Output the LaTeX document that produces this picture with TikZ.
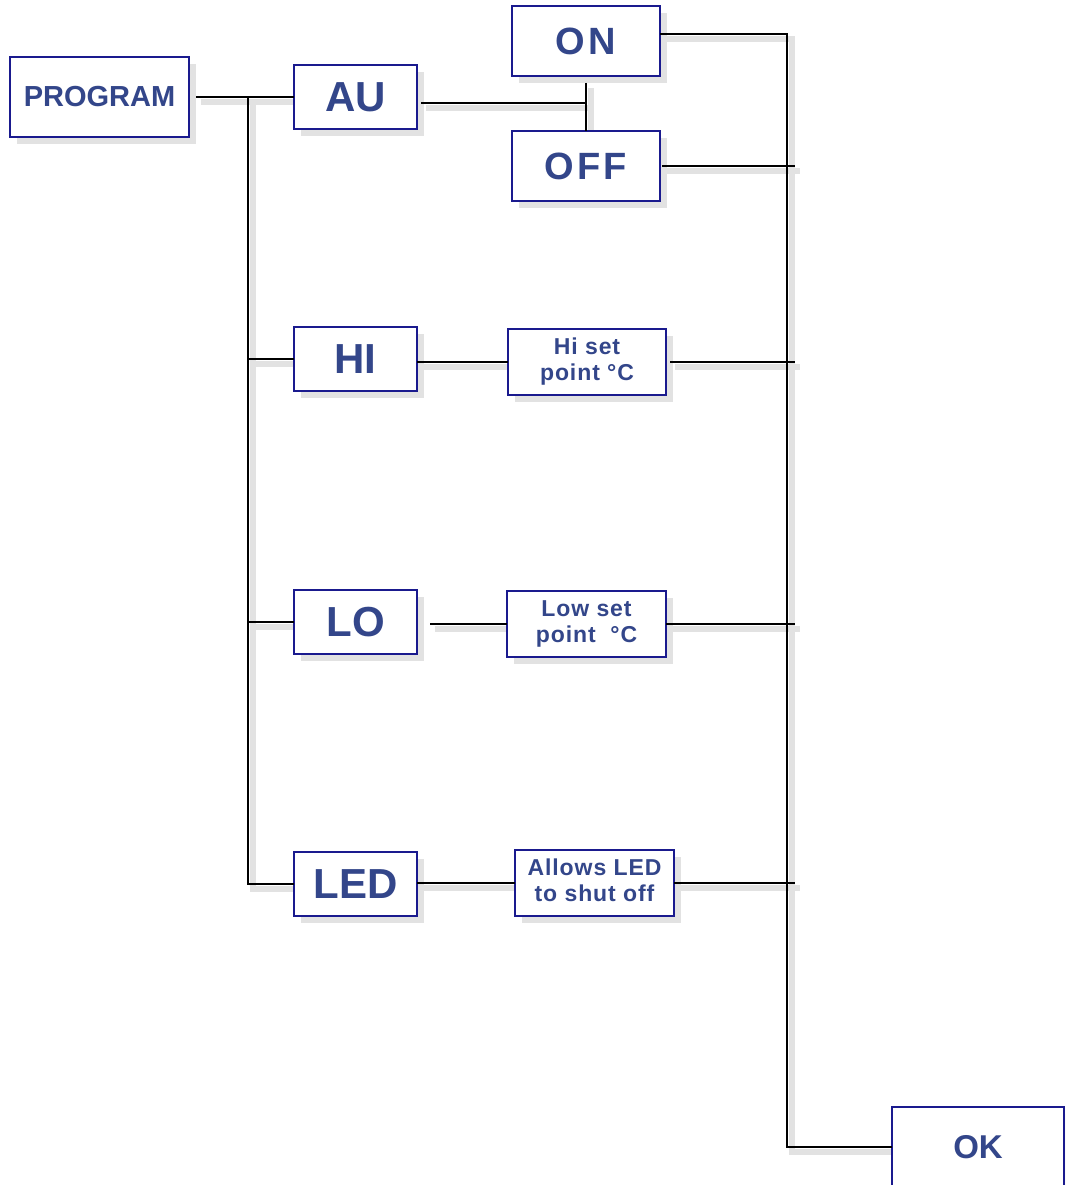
\documentclass[tikz,border=0pt]{standalone}
\usepackage{fontspec}
\setmainfont{Liberation Sans}
\usetikzlibrary{shadows,backgrounds}
\definecolor{boxblue}{HTML}{1A1A8E}
\definecolor{txtblue}{HTML}{33468A}
\definecolor{shgray}{HTML}{E2E2E2}
\tikzset{
  box/.style={draw=boxblue, line width=2pt, fill=white, inner sep=0pt, outer sep=0pt,
    text=txtblue, align=center,
    drop shadow={shadow xshift=7pt, shadow yshift=-7pt, fill=shgray, opacity=1}},
  bigtxt/.style={font=\fontsize{42}{44}\selectfont\bfseries},
  ontxt/.style={font=\fontsize{38}{40}\selectfont\bfseries\addfontfeature{LetterSpace=8}},
  smalltxt/.style={font=\fontsize{23}{26}\selectfont\bfseries\addfontfeature{LetterSpace=4}},
  midbox/.style={minimum width=123pt, minimum height=64pt},
}
\newcommand\twolines[2]{\raisebox{-4pt}{\begin{tabular}{@{}c@{}}#1\\#2\end{tabular}}}
\newcommand\myconns{%
  \draw[c, shorten <=7pt] (prog.east) -- (prog.east -| au.west);
  \draw[c] (t0) -- (t0 |- led.west) -- (led.west);
  \draw[c] (t0 |- hi.west) -- (hi.west);
  \draw[c] (t0 |- lo.west) -- (lo.west);
  \draw[c, shorten <=4pt] (au.east |- aj) -- (aj);
  \draw[c, shorten <=7pt] (on.south) -- (off.north);
  \draw[c] (on.east |- b0) -- (b0) -- (b0 |- ok.west) -- (ok.west);
  \draw[c, shorten <=2pt] (off.east) -- (b1 |- off.east);
  \draw[c] (hi.east |- hiset.west) -- (hiset.west);
  \draw[c, shorten <=4pt] (hiset.east) -- (b1 |- hiset.east);
  \draw[c, shorten <=13pt] (lo.east |- loset.west) -- (loset.west);
  \draw[c] (loset.east) -- (b1 |- loset.east);
  \draw[c] (led.east |- allows.west) -- (allows.west);
  \draw[c] (allows.east) -- (b1 |- allows.east);
}
\begin{document}
\begin{tikzpicture}[x=1pt,y=-1pt]
  \clip (0,0) rectangle (1065,1185);
  % boxes
  \node[box, minimum width=179pt, minimum height=80pt, font=\fontsize{29}{32}\selectfont\bfseries] (prog) at (99.5,97) {PROGRAM};
  \node[box, midbox, bigtxt] (au) at (355.5,97) {AU};
  \node[box, minimum width=148pt, minimum height=70pt, ontxt] (on) at (586,41) {ON};
  \node[box, minimum width=148pt, minimum height=70pt, ontxt] (off) at (586,166) {OFF};
  \node[box, midbox, bigtxt] (hi) at (355.5,359) {HI};
  \node[box, minimum width=158pt, minimum height=66pt, smalltxt] (hiset) at (587,362) {\twolines{Hi set}{point °C}};
  \node[box, midbox, bigtxt] (lo) at (355.5,622) {LO};
  \node[box, minimum width=159pt, minimum height=66pt, smalltxt] (loset) at (586.5,624) {\twolines{Low set}{point\ \ °C}};
  \node[box, midbox, bigtxt] (led) at (355.5,884) {LED};
  \node[box, minimum width=159pt, minimum height=66pt, smalltxt] (allows) at (594.5,883) {\twolines{Allows LED}{to shut off}};
  \node[box, minimum width=172pt, minimum height=80pt, font=\fontsize{33}{36}\selectfont\bfseries] (ok) at (978,1147) {OK};
  % junction points
  \coordinate (t0) at (248,97);
  \coordinate (aj) at (587,103);
  \coordinate (b0) at (787,34);
  \coordinate (b1) at (795,34);
  % connector shadows
  \begin{scope}[on background layer]
    \begin{scope}[transform canvas={shift={(5pt,-5pt)}}, c/.style={draw=shgray, line width=6pt}]
      \myconns
    \end{scope}
  \end{scope}
  % connectors
  \begin{scope}[c/.style={draw=black, line width=2pt}]
    \myconns
  \end{scope}
\end{tikzpicture}
\end{document}
